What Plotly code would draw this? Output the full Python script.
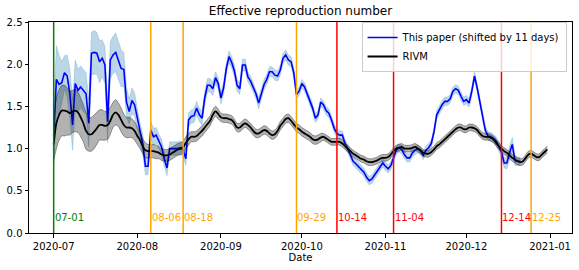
import pandas as pd
import plotly.graph_objects as go

# ---------------- data ----------------
start_date = "2020-07-01"

# "This paper (shifted by 11 days)" – daily values from 2020-07-01
blue_r = [
    1.15, 1.82, 1.76, 1.78, 1.90, 1.86, 1.65, 1.28, 1.77, 1.69,
    1.73, 1.69, 1.65, 1.30, 2.13, 2.14, 2.13, 2.03, 2.07, 1.99,
    1.32, 2.05, 2.11, 2.14, 2.05, 1.95, 1.94, 1.55, 1.44, 1.57,
    1.52, 1.36, 1.18, 1.06, 0.79, 0.79, 1.22, 1.14, 1.16, 1.08,
    1.02, 0.88, 0.77, 1.00, 1.00, 1.00, 1.00, 1.01, 0.98, 0.88,
    1.34, 1.38, 1.39, 1.48, 1.40, 1.36, 1.60, 1.75, 1.75, 1.71,
    1.84, 1.77, 1.60, 1.72, 1.95, 2.09, 2.02, 1.92, 1.75, 1.71,
    1.99, 1.99, 1.85, 1.80, 1.72, 1.65, 1.54, 1.65, 1.76, 1.82,
    1.91, 1.91, 1.87, 1.86, 1.93, 2.07, 2.11, 2.05, 2.03, 1.90,
    1.64, 1.68, 1.77, 1.73, 1.65, 1.58, 1.48, 1.36, 1.40, 1.55,
    1.52, 1.45, 1.42, 1.34, 1.24, 1.18, 1.16, 1.16, 1.06, 1.00,
    0.92, 0.85, 0.82, 0.79, 0.75, 0.72, 0.66, 0.62, 0.64, 0.69,
    0.74, 0.78, 0.83, 0.79, 0.76, 0.80, 0.90, 0.98, 1.01, 0.99,
    0.93, 0.89, 0.89, 0.95, 0.98, 1.00, 0.97, 0.92, 0.98, 1.01,
    1.06, 1.20, 1.40, 1.47, 1.52, 1.56, 1.56, 1.59, 1.68, 1.71,
    1.69, 1.62, 1.56, 1.58, 1.54, 1.68, 1.86, 1.72, 1.54, 1.38,
    1.22, 1.15, 1.14, 1.12, 1.09, 1.03, 0.96, 0.83, 0.83, 0.95,
    1.05, 0.86, 0.85, 0.85,
]
blue_err = [
    0.35, 0.40, 0.35, 0.25, 0.20, 0.25, 0.30, 0.30, 0.28, 0.25,
    0.25, 0.25, 0.25, 0.28, 0.25, 0.26, 0.25, 0.25, 0.22, 0.22,
    0.25, 0.22, 0.22, 0.23, 0.22, 0.22, 0.20, 0.18, 0.15, 0.15,
    0.14, 0.13, 0.12, 0.12, 0.10, 0.10, 0.10, 0.10, 0.09, 0.09,
    0.09, 0.09, 0.09, 0.08, 0.08, 0.08, 0.08, 0.08, 0.08, 0.08,
    0.08, 0.08, 0.08, 0.08, 0.08, 0.08, 0.08, 0.08, 0.08, 0.08,
    0.07, 0.07, 0.07, 0.07, 0.07, 0.07, 0.07, 0.07, 0.07, 0.07,
    0.07, 0.07, 0.06, 0.06, 0.06, 0.06, 0.07, 0.06, 0.06, 0.06,
    0.06, 0.06, 0.06, 0.06, 0.06, 0.06, 0.06, 0.06, 0.06, 0.06,
    0.05, 0.05, 0.05, 0.05, 0.05, 0.05, 0.05, 0.05, 0.05, 0.05,
    0.05, 0.05, 0.05, 0.05, 0.05, 0.05, 0.05, 0.05, 0.05, 0.05,
    0.05, 0.05, 0.05, 0.05, 0.05, 0.05, 0.05, 0.05, 0.05, 0.05,
    0.05, 0.05, 0.05, 0.05, 0.05, 0.05, 0.05, 0.05, 0.05, 0.05,
    0.05, 0.05, 0.05, 0.05, 0.05, 0.05, 0.05, 0.05, 0.05, 0.05,
    0.05, 0.05, 0.05, 0.05, 0.05, 0.05, 0.05, 0.05, 0.05, 0.05,
    0.05, 0.05, 0.05, 0.05, 0.05, 0.05, 0.05, 0.05, 0.05, 0.05,
    0.05, 0.05, 0.05, 0.05, 0.05, 0.06, 0.06, 0.06, 0.07, 0.08,
    0.08, 0.06, 0.05, 0.05,
]

# RIVM – daily values from 2020-07-01
rivm_r = [
    1.05, 1.30, 1.40, 1.45, 1.45, 1.44, 1.42, 1.44, 1.45, 1.43,
    1.37, 1.30, 1.21, 1.17, 1.17, 1.20, 1.24, 1.28, 1.28, 1.27,
    1.28, 1.33, 1.40, 1.43, 1.40, 1.34, 1.28, 1.25, 1.25, 1.24,
    1.21, 1.15, 1.10, 1.03, 0.98, 0.97, 0.97, 0.97, 0.96, 0.95,
    0.93, 0.92, 0.92, 0.93, 0.95, 0.97, 0.99, 1.00, 1.02, 1.07,
    1.11, 1.14, 1.14, 1.15, 1.18, 1.21, 1.25, 1.29, 1.33, 1.40,
    1.44, 1.41, 1.37, 1.36, 1.36, 1.35, 1.34, 1.30, 1.25, 1.25,
    1.28, 1.30, 1.28, 1.25, 1.21, 1.18, 1.18, 1.20, 1.22, 1.21,
    1.18, 1.16, 1.17, 1.21, 1.27, 1.31, 1.35, 1.36, 1.33, 1.29,
    1.25, 1.23, 1.20, 1.18, 1.16, 1.14, 1.11, 1.10, 1.11, 1.13,
    1.14, 1.12, 1.10, 1.08, 1.08, 1.08, 1.08, 1.06, 1.03, 1.00,
    0.97, 0.94, 0.92, 0.90, 0.88, 0.87, 0.85, 0.84, 0.84, 0.85,
    0.86, 0.88, 0.89, 0.89, 0.90, 0.93, 0.97, 1.00, 1.01, 1.02,
    1.00, 1.00, 1.00, 1.01, 1.02, 1.00, 0.98, 0.95, 0.94, 0.94,
    0.96, 0.99, 1.03, 1.05, 1.08, 1.11, 1.14, 1.17, 1.20, 1.23,
    1.25, 1.25, 1.23, 1.23, 1.25, 1.25, 1.24, 1.22, 1.18, 1.15,
    1.14, 1.14, 1.13, 1.11, 1.07, 1.03, 1.00, 0.97, 0.95, 0.92,
    0.89, 0.87, 0.85, 0.84, 0.85, 0.89, 0.93, 0.94, 0.92, 0.90,
    0.90, 0.93, 0.96, 0.99,
]
rivm_err = [
    0.20, 0.30, 0.30, 0.30, 0.30, 0.28, 0.26, 0.25, 0.25, 0.24,
    0.23, 0.22, 0.22, 0.20, 0.20, 0.20, 0.19, 0.18, 0.18, 0.17,
    0.17, 0.16, 0.15, 0.15, 0.14, 0.14, 0.13, 0.12, 0.12, 0.11,
    0.11, 0.10, 0.10, 0.09, 0.09, 0.08, 0.08, 0.08, 0.08, 0.07,
    0.07, 0.07, 0.07, 0.07, 0.07, 0.07, 0.07, 0.07, 0.07, 0.07,
    0.07, 0.06, 0.06, 0.06, 0.06, 0.06, 0.06, 0.06, 0.06, 0.06,
    0.06, 0.06, 0.05, 0.05, 0.05, 0.05, 0.05, 0.05, 0.05, 0.05,
    0.05, 0.05, 0.05, 0.05, 0.05, 0.05, 0.05, 0.05, 0.05, 0.05,
    0.05, 0.05, 0.05, 0.05, 0.05, 0.05, 0.05, 0.05, 0.05, 0.05,
    0.05, 0.05, 0.05, 0.05, 0.05, 0.05, 0.05, 0.05, 0.05, 0.05,
    0.04, 0.04, 0.04, 0.04, 0.04, 0.04, 0.04, 0.04, 0.04, 0.04,
    0.04, 0.04, 0.04, 0.04, 0.04, 0.04, 0.04, 0.04, 0.04, 0.04,
    0.04, 0.04, 0.04, 0.04, 0.04, 0.04, 0.04, 0.04, 0.04, 0.04,
    0.04, 0.04, 0.04, 0.04, 0.04, 0.04, 0.04, 0.04, 0.04, 0.04,
    0.04, 0.04, 0.04, 0.04, 0.04, 0.04, 0.04, 0.04, 0.04, 0.04,
    0.04, 0.04, 0.04, 0.04, 0.04, 0.04, 0.04, 0.04, 0.04, 0.04,
    0.04, 0.04, 0.04, 0.04, 0.04, 0.04, 0.04, 0.04, 0.04, 0.04,
    0.04, 0.04, 0.04, 0.04, 0.04, 0.04, 0.04, 0.04, 0.04, 0.04,
    0.04, 0.04, 0.04, 0.04,
]

event_dates = ["2020-07-01", "2020-08-06", "2020-08-18", "2020-09-29",
               "2020-10-14", "2020-11-04", "2020-12-14", "2020-12-25"]
event_labels = ["07-01", "08-06", "08-18", "09-29",
                "10-14", "11-04", "12-14", "12-25"]
event_colors = ["#008000", "#ffa500", "#ffa500", "#ffa500",
                "#ff0000", "#ff0000", "#ff0000", "#ffa500"]

y_ticks = [0.0, 0.5, 1.0, 1.5, 2.0, 2.5]
x_ticks = ["2020-07-01", "2020-08-01", "2020-09-01", "2020-10-01",
           "2020-11-01", "2020-12-01", "2021-01-01"]

# ---------------- figure ----------------
blue_dates = pd.date_range(start_date, periods=len(blue_r), freq="D")
rivm_dates = pd.date_range(start_date, periods=len(rivm_r), freq="D")

blue_lo = [v - e for v, e in zip(blue_r, blue_err)]
blue_hi = [v + e for v, e in zip(blue_r, blue_err)]
rivm_lo = [v - e for v, e in zip(rivm_r, rivm_err)]
rivm_hi = [v + e for v, e in zip(rivm_r, rivm_err)]

FONT = "DejaVu Sans"
fig = go.Figure()

fig.add_trace(go.Scatter(x=blue_dates, y=blue_lo, mode="lines",
                         line=dict(color="rgba(31,119,180,0.25)", width=0.8),
                         showlegend=False, hoverinfo="skip"))
fig.add_trace(go.Scatter(x=blue_dates, y=blue_hi, mode="lines", fill="tonexty",
                         fillcolor="rgba(31,119,180,0.3)",
                         line=dict(color="rgba(31,119,180,0.25)", width=0.8),
                         showlegend=False, hoverinfo="skip"))
fig.add_trace(go.Scatter(x=blue_dates, y=blue_r, mode="lines",
                         name="This paper (shifted by 11 days)",
                         line=dict(color="#0000ff", width=1.6)))

fig.add_trace(go.Scatter(x=rivm_dates, y=rivm_lo, mode="lines", line_shape="spline",
                         line=dict(color="rgba(0,0,0,0.35)", width=1),
                         showlegend=False, hoverinfo="skip"))
fig.add_trace(go.Scatter(x=rivm_dates, y=rivm_hi, mode="lines", fill="tonexty",
                         line_shape="spline",
                         fillcolor="rgba(0,0,0,0.3)",
                         line=dict(color="rgba(0,0,0,0.35)", width=1),
                         showlegend=False, hoverinfo="skip"))
fig.add_trace(go.Scatter(x=rivm_dates, y=rivm_r, mode="lines", name="RIVM",
                         line_shape="spline",
                         line=dict(color="black", width=1.8)))

for d, lab, c in zip(event_dates, event_labels, event_colors):
    fig.add_shape(type="line", x0=d, x1=d, xref="x", y0=0, y1=1, yref="paper",
                  line=dict(color=c, width=1.5), layer="above")
    fig.add_annotation(x=d, y=0.1, xref="x", yref="y", text=lab, showarrow=False,
                       xanchor="left", yanchor="bottom", xshift=-1,
                       font=dict(family=FONT, size=10, color=c))

# axis range with matplotlib-like 5% margin
x0 = min(blue_dates.min(), rivm_dates.min())
x1 = max(blue_dates.max(), rivm_dates.max())
span = x1 - x0
xr = [x0 - 0.05 * span, x1 + 0.05 * span]

fig.update_layout(
    width=579, height=270,
    margin=dict(l=29, r=7, t=22, b=37),
    paper_bgcolor="white", plot_bgcolor="white",
    font=dict(family=FONT, size=10, color="black"),
    title=dict(text="Effective reproduction number", x=0.5, xref="paper",
               xanchor="center", y=1 - 11 / 270, yref="container",
               yanchor="middle", font=dict(family=FONT, size=12)),
    showlegend=True,
    legend=dict(x=0.99, y=1.0, xanchor="right", yanchor="top",
                traceorder="normal",
                bgcolor="rgba(255,255,255,0.8)", bordercolor="#cccccc",
                borderwidth=1, font=dict(family=FONT, size=10),
                itemwidth=30, tracegroupgap=0),
    xaxis=dict(range=xr, tickvals=x_ticks, tickformat="%Y-%m",
               showgrid=False, zeroline=False, showline=True, mirror=True,
               linecolor="black", linewidth=1, ticks="outside", ticklen=3.5,
               tickcolor="black", tickfont=dict(size=10),
               title=dict(text="Date", font=dict(size=10), standoff=2)),
    yaxis=dict(range=[0, 2.5], tickvals=y_ticks, tickformat=".1f",
               showgrid=False, zeroline=False, showline=True, mirror=True,
               linecolor="black", linewidth=1, ticks="outside", ticklen=3.5,
               tickcolor="black", tickfont=dict(size=10)),
)

fig.write_html("out.html",
               config={"displayModeBar": False},
               post_script="document.body.style.margin='0';"
                           "document.body.style.padding='0';")
